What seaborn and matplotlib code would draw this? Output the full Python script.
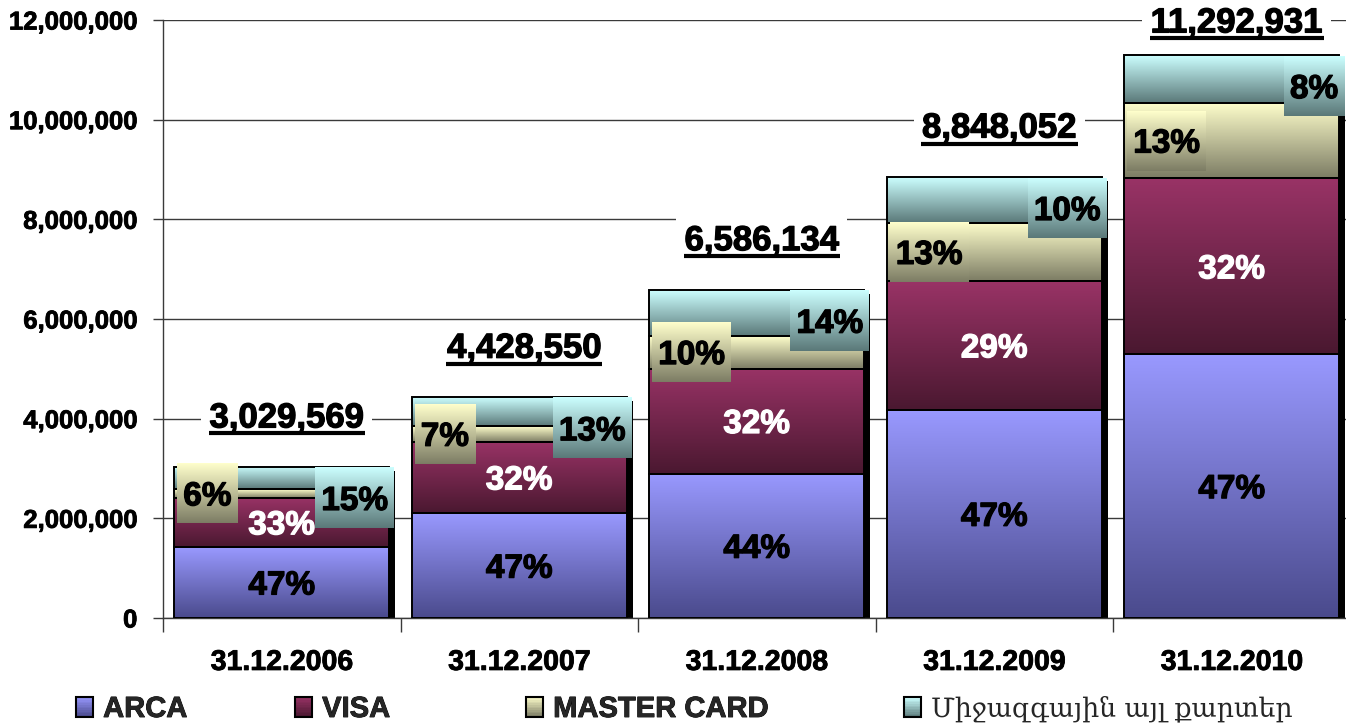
import numpy as np
import pandas as pd
import matplotlib
matplotlib.use("Agg")
import matplotlib.pyplot as plt
import seaborn as sns
from matplotlib.colors import LinearSegmentedColormap
from matplotlib.patches import Rectangle
from matplotlib.legend_handler import HandlerBase
from matplotlib.ticker import FuncFormatter, FixedLocator
import matplotlib.patheffects as pe

# ---------------- data ----------------
dates = ["31.12.2006", "31.12.2007", "31.12.2008", "31.12.2009", "31.12.2010"]
series = ["ARCA", "VISA", "MASTER CARD", "Միջազգային այլ քարտեր"]
arca = [1424000, 2100000, 2898000, 4180000, 5290000]
visa = [990000, 1440000, 2108000, 2580000, 3530000]
master = [170000, 310000, 659000, 1170000, 1520000]
other = [445569, 578550, 921134, 918052, 952931]
totals = [3029569, 4428550, 6586134, 8848052, 11292931]
pct_arca = ["47%", "47%", "44%", "47%", "47%"]
pct_visa = ["33%", "32%", "32%", "29%", "32%"]
pct_master = ["6%", "7%", "10%", "13%", "13%"]
pct_other = ["15%", "13%", "14%", "10%", "8%"]
y_ticks = [0, 2000000, 4000000, 6000000, 8000000, 10000000, 12000000]

# ---------------- style ----------------
sns.set_theme(style="white")
plt.rcParams["font.family"] = ["Liberation Sans", "DejaVu Sans"]
plt.rcParams["font.weight"] = "bold"

grads = [("#9999FF", "#4A4A8C"),   # ARCA (top, bottom)
         ("#993366", "#4A1830"),   # VISA
         ("#FFFFCC", "#7C7C64"),   # MASTER CARD
         ("#CCFFFF", "#5A7878")]   # other

def heavy(col="black", lw=0.9):
    return [pe.Stroke(linewidth=lw, foreground=col), pe.Normal()]

W, H = 1346, 728
fig = plt.figure(figsize=(W / 100, H / 100), dpi=100)
ax = fig.add_axes([163 / W, 110 / H, 1187.5 / W, 598 / H])

bar_w = 0.905
layers = [arca, visa, master, other]
df = pd.DataFrame({"date": dates, "ARCA": arca, "VISA": visa,
                   "MASTER CARD": master, "OTHER": other, "total": totals})

# drop shadow behind each stack
px_per_unit_y = 598 / 12e6
px_per_unit_x = 237.5
shadow = np.array(totals) - 4 / px_per_unit_y
ax.bar(np.arange(len(dates)) + 6 / px_per_unit_x, shadow, width=bar_w,
       color="black", zorder=1.5, linewidth=0)

bottom = np.zeros(len(dates))
for name, vals in zip(["ARCA", "VISA", "MASTER CARD", "OTHER"], layers):
    sns.barplot(data=df, x="date", y=name, order=dates, bottom=bottom.copy(),
                width=bar_w, ax=ax, color="white", edgecolor="black",
                linewidth=1.4, errorbar=None, zorder=3)
    bottom = bottom + np.array(vals)

ax.set_xlim(-0.5, len(dates) - 0.5)
ax.set_ylim(0, 12e6)

def grad_image(x0, x1, y0, y1, top, bot, z):
    cmap = LinearSegmentedColormap.from_list("g", [bot, top])
    g = np.linspace(0, 1, 256).reshape(-1, 1)
    ax.imshow(g, extent=[x0, x1, y0, y1], origin="lower", aspect="auto",
              cmap=cmap, zorder=z, interpolation="bilinear")

# gradient fills
for li, cont in enumerate(ax.containers[1:]):
    top, bot = grads[li]
    for r in cont:
        x0, y0 = r.get_x(), r.get_y()
        grad_image(x0, x0 + r.get_width(), y0, y0 + r.get_height(), top, bot, 2.5)
        r.set_facecolor("none")

ax.set_xlim(-0.5, len(dates) - 0.5)
ax.set_ylim(0, 12e6)

# axes styling
ax.yaxis.grid(True, color="#3A3A3A", linewidth=1.0)
ax.xaxis.grid(False)
ax.set_axisbelow(True)
for s in ["top", "right"]:
    ax.spines[s].set_visible(False)
for s in ["left", "bottom"]:
    ax.spines[s].set_color("#3A3A3A")
    ax.spines[s].set_linewidth(1.0)
ax.yaxis.set_major_locator(FixedLocator(y_ticks))
ax.yaxis.set_major_formatter(FuncFormatter(lambda v, p: f"{int(v):,}"))
ax.tick_params(axis="y", left=True, length=7, width=1, color="#3A3A3A",
               direction="out", pad=11.5, labelsize=18.5)
ax.set_xticks(range(len(dates)))
ax.set_xticklabels(dates)
ax.set_xticks(np.arange(-0.5, len(dates)), minor=True)
ax.tick_params(axis="x", which="major", bottom=True, length=0, pad=23, labelsize=20.5)
ax.tick_params(axis="x", which="minor", bottom=True, length=10, width=1,
               color="#3A3A3A", direction="out")
for t in ax.get_xticklabels() + ax.get_yticklabels():
    t.set_fontweight("bold")
    t.set_color("black")
    t.set_path_effects(heavy(lw=0.6))
ax.set_xlabel("")
ax.set_ylabel("")

# ---------------- labels ----------------
fs_pct = 24
cap_pct = 0.716 * fs_pct * 100 / 72
fs_tot = 25
cap_tot = 0.716 * fs_tot * 100 / 72

cum = np.vstack([np.zeros(len(dates))] + [np.cumsum(layers, axis=0)[i] for i in range(4)])
pct_texts = []
for i in range(len(dates)):
    left = i - bar_w / 2
    right = i + bar_w / 2
    for li, (labs, col) in enumerate([(pct_arca, "black"), (pct_visa, "white")]):
        yc = (cum[li][i] + cum[li + 1][i]) / 2
        ax.annotate(labs[i], xy=(i, yc), xytext=(0, -cap_pct / 2),
                    textcoords="offset pixels", ha="center", va="baseline",
                    fontsize=fs_pct, fontweight="bold", color=col, zorder=7,
                    path_effects=heavy(col))
    yc = (cum[2][i] + cum[3][i]) / 2
    t1 = ax.annotate(pct_master[i], xy=(left, yc), xytext=(9, -cap_pct / 2),
                     textcoords="offset pixels", ha="left", va="baseline",
                     fontsize=fs_pct, fontweight="bold", color="black", zorder=7,
                     path_effects=heavy())
    pct_texts.append((t1, 2, left, yc, 0))
    t2 = ax.annotate(pct_other[i], xy=(right, totals[i]), xytext=(-1, -31 - cap_pct / 2),
                     textcoords="offset pixels", ha="right", va="baseline",
                     fontsize=fs_pct, fontweight="bold", color="black", zorder=7,
                     path_effects=heavy())
    pct_texts.append((t2, 3, right, totals[i], -31))

tot_texts = []
for i in range(len(dates)):
    ty_px = ax.transData.transform((i, totals[i]))[1] + 52
    top_px = ax.transData.transform((i, 12e6))[1]
    cy_px = min(ty_px, top_px)
    cy = ax.transData.inverted().transform((0, cy_px))[1]
    t = ax.annotate(f"{totals[i]:,}", xy=(i, cy), xytext=(5, -cap_tot / 2),
                    textcoords="offset pixels", ha="center", va="baseline",
                    fontsize=fs_tot, fontweight="bold", color="black", zorder=8,
                    annotation_clip=False, path_effects=heavy(),
                    bbox=dict(facecolor="white", edgecolor="none", pad=6))
    tot_texts.append((t, cy_px))

fig.canvas.draw()
renderer = fig.canvas.get_renderer()
inv = ax.transData.inverted()
for t, li, xa, ya, dy in pct_texts:
    bb = t.get_window_extent(renderer)
    cy_px = ax.transData.transform((xa, ya))[1] + dy
    x0, y0 = inv.transform((bb.x0 - 6, cy_px - 30))
    x1, y1 = inv.transform((bb.x1 + 6, cy_px + 30))
    top, bot = grads[li]
    grad_image(x0, x1, y0, y1, top, bot, 6)

for t, cy_px in tot_texts:
    t.set_bbox(None)
    bb = t.get_window_extent(renderer)
    t.set_bbox(dict(facecolor="white", edgecolor="none", pad=6))
    uy = cy_px - cap_tot / 2 - 6
    (x0, yu), (x1, _) = inv.transform([(bb.x0 - 1, uy), (bb.x1 + 1, uy)])
    ax.plot([x0, x1], [yu, yu], color="black", linewidth=3.0, zorder=9,
            clip_on=False, solid_capstyle="butt")

ax.set_xlim(-0.5, len(dates) - 0.5)
ax.set_ylim(0, 12e6)

# ---------------- legend ----------------
class GradHandler(HandlerBase):
    def __init__(self, top, bot):
        super().__init__()
        self.top, self.bot = top, bot

    def create_artists(self, legend, orig_handle, xdescent, ydescent, width,
                       height, fontsize, trans):
        cmap = LinearSegmentedColormap.from_list("g", [self.bot, self.top])
        arts = []
        n = 12
        for k in range(n):
            arts.append(Rectangle((-xdescent, -ydescent + height * k / n), width,
                                  height / n + 0.3, facecolor=cmap((k + 0.5) / n),
                                  edgecolor="none", transform=trans))
        arts.append(Rectangle((-xdescent, -ydescent), width, height,
                              facecolor="none", edgecolor="black",
                              linewidth=1.5, transform=trans))
        return arts

legend_x = [76, 295, 526, 904]
for k, name in enumerate(series):
    h = Rectangle((0, 0), 1, 1)
    size = 21 if k < 3 else 19.2
    leg = fig.legend([h], [name], handler_map={h: GradHandler(*grads[k])},
                     frameon=False, loc="center left",
                     bbox_to_anchor=(legend_x[k] / W, 19 / H),
                     borderpad=0, borderaxespad=0,
                     handlelength=0.58 * 21 / size, handleheight=0.68 * 21 / size,
                     handletextpad=0.35 * 21 / size,
                     prop={"weight": "bold", "size": size})
    txt = leg.get_texts()[0]
    if k == 3:
        txt.set_fontfamily(["DejaVu Serif", "DejaVu Sans"])
        txt.set_fontweight("normal")
    else:
        txt.set_path_effects(heavy(lw=0.6))

fig.savefig("out.png", dpi=100)
